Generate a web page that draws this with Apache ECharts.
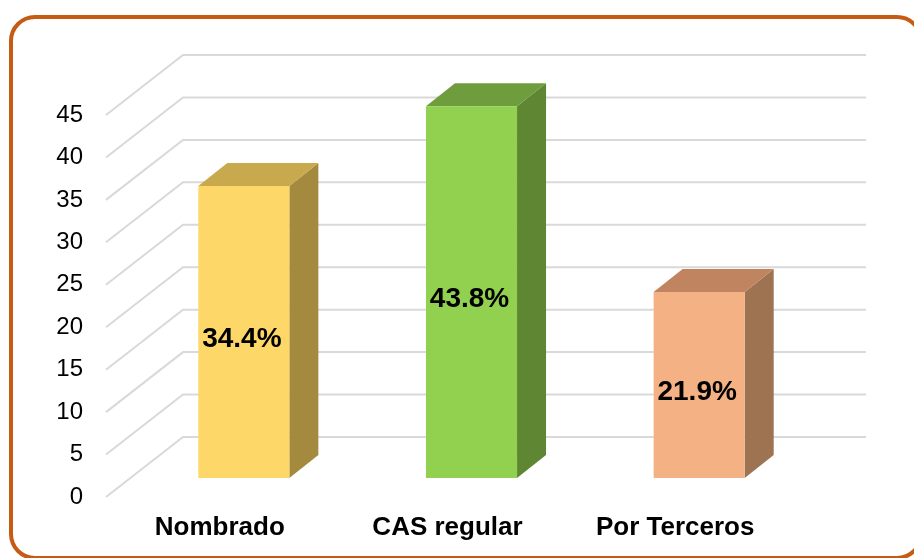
<!DOCTYPE html>
<html>
<head>
<meta charset="utf-8">
<style>
html,body{margin:0;padding:0;background:#fff;}
#main{width:914px;height:558px;}
</style>
<script src="https://cdn.jsdelivr.net/npm/echarts@6/dist/echarts.min.js"></script>
</head>
<body>
<div id="main"></div>
<script>
// ---- data ----
var categories = ['Nombrado', 'CAS regular', 'Por Terceros'];
var values = [34.4, 43.8, 21.9];
var valueLabels = ['34.4%', '43.8%', '21.9%'];
var yTicks = [0, 5, 10, 15, 20, 25, 30, 35, 40, 45];

// ---- styles ----
var frontColors = ['#FDD767', '#92D050', '#F4B183'];
var topColors = ['#C8A94E', '#6F9C3C', '#C08460'];
var sideColors = ['#A48A3F', '#5F8733', '#9D7352'];

var WALL_DX = 77, WALL_DY = 60;   // depth of floor (front -> back wall)
var BAR_OX = 24, BAR_OY = 19;     // bar front face offset from front plane
var BAR_DX = 29, BAR_DY = 23;     // bar depth
var FONT = '"Liberation Sans", Arial, sans-serif';

var chart = echarts.init(document.getElementById('main'), null, {renderer: 'canvas'});

var barData = values.map(function (v, i) { return [i, v]; });
var gridData = yTicks.map(function (v) { return [0, v]; });

chart.setOption({
  backgroundColor: '#ffffff',
  animation: false,
  graphic: [{
    type: 'rect',
    shape: {x: 11, y: 17, width: 910, height: 541, r: 24},
    style: {fill: 'none', stroke: '#C65B13', lineWidth: 4},
    z: 0, silent: true
  }],
  grid: {left: 106, right: 125, top: 115, bottom: 61, containLabel: false},
  xAxis: {
    type: 'category',
    data: categories,
    axisLine: {show: false},
    axisTick: {show: false},
    axisLabel: {fontFamily: FONT, fontSize: 26, fontWeight: 'bold', color: '#000', margin: 18}
  },
  yAxis: {
    type: 'value',
    min: 0, max: 45, interval: 5,
    axisLine: {show: false},
    axisTick: {show: false},
    splitLine: {show: false},
    axisLabel: {fontFamily: FONT, fontSize: 24, color: '#000', margin: 23}
  },
  series: [{
    type: 'custom',
    silent: true,
    z: 1,
    data: gridData,
    renderItem: function (params, api) {
      var cs = params.coordSys;
      var p = api.coord([0, api.value(1)]);
      var y = p[1];
      var left = cs.x, right = cs.x + cs.width;
      return {
        type: 'polyline',
        shape: {points: [[left, y], [left + WALL_DX, y - WALL_DY], [right + WALL_DX, y - WALL_DY]]},
        style: {stroke: '#D9D9D9', lineWidth: 2, fill: 'none'}
      };
    }
  }, {
    type: 'custom',
    z: 3,
    data: barData,
    renderItem: function (params, api) {
      var i = api.value(0), v = api.value(1);
      var base = api.coord([i, 0]);
      var top = api.coord([i, v]);
      var w = api.size([1, 0])[0] * 0.4;
      var cx = base[0] + BAR_OX;
      var yb = base[1] - BAR_OY;
      var yt = top[1] - BAR_OY;
      var xl = cx - w / 2, xr = cx + w / 2;
      var idx = params.dataIndex;
      return {
        type: 'group',
        children: [{
          type: 'polygon',
          shape: {points: [[xr, yt], [xr + BAR_DX, yt - BAR_DY], [xr + BAR_DX, yb - BAR_DY], [xr, yb]]},
          style: {fill: sideColors[idx]}
        }, {
          type: 'polygon',
          shape: {points: [[xl, yt], [xr, yt], [xr + BAR_DX, yt - BAR_DY], [xl + BAR_DX, yt - BAR_DY]]},
          style: {fill: topColors[idx]}
        }, {
          type: 'rect',
          shape: {x: xl, y: yt, width: w, height: yb - yt},
          style: {fill: frontColors[idx]}
        }, {
          type: 'text',
          x: cx - 2, y: (yt + yb) / 2 + 7,
          style: {
            text: valueLabels[idx],
            fontFamily: FONT, fontSize: 28, fontWeight: 'bold',
            fill: '#000', align: 'center', verticalAlign: 'middle'
          }
        }]
      };
    }
  }]
});
</script>
</body>
</html>
